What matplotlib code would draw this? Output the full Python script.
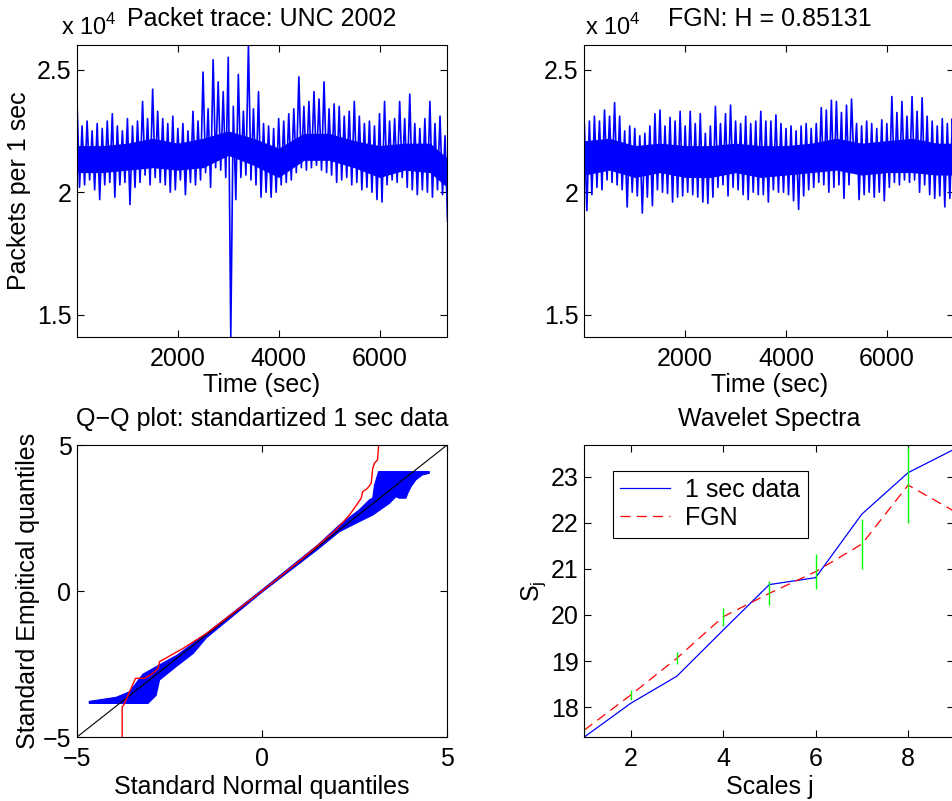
import numpy as np
import matplotlib
matplotlib.use('Agg')
import matplotlib.pyplot as plt

plt.rcParams['font.family'] = ['Liberation Sans', 'DejaVu Sans']
plt.rcParams['font.size'] = 18
plt.rcParams['axes.titlesize'] = 18
plt.rcParams['axes.linewidth'] = 0.8

# --- 1 sec packet counts (local peaks at t, local troughs at t + 50)
trace_peaks = [23700, 22700, 22900, 22500, 22800, 22600, 22900, 23200, 22700, 22500,
               23000, 22700, 22900, 23700, 23000, 24200, 23300, 23000, 22800, 23100,
               22600, 22800, 22500, 23300, 22900, 24900, 23400, 25400, 24500, 24100,
               25500, 23500, 24800, 23300, 26000, 23400, 24100, 22800, 22700, 22600,
               23000, 22900, 23200, 23400, 24700, 23500, 23700, 24100, 23800, 24500,
               23400, 23600, 23500, 23100, 23300, 23700, 23100, 22800, 22900, 22700,
               23200, 23700, 22900, 23000, 23700, 23000, 24000, 22800, 22600, 23000,
               23700, 22800, 23100, 22300]
trace_troughs = [20200, 20300, 20500, 20100, 19700, 20300, 20400, 19800, 20300, 20400,
                 19500, 20200, 20400, 20700, 20300, 20600, 20400, 20300, 20000, 20100,
                 20500, 19900, 20400, 20300, 20500, 20800, 20200, 21000, 20900, 20600,
                 14100, 19700, 20600, 20700, 20500, 20300, 19800, 20000, 19800, 20000,
                 20300, 20400, 20500, 20800, 21000, 20900, 21000, 21100, 20900, 20800,
                 20700, 20400, 20500, 20600, 20300, 20400, 20100, 20200, 20000, 19700,
                 19600, 20300, 20500, 20400, 20600, 20200, 20100, 19900, 20100, 20000,
                 19800, 20100, 19900, 18800]
# dense core of the trace, read every 500 sec
core_times = [0, 500, 1000, 1500, 2000, 2500, 3000, 3500, 4000, 4500, 5000, 5500,
              6000, 6500, 7000, 7340]
trace_core_hi = [21900, 21900, 22000, 22200, 22000, 22200, 22500, 22200, 21800, 22400,
                 22400, 22100, 21900, 22000, 22000, 21400]
trace_core_lo = [20800, 20800, 20900, 21000, 20900, 21000, 21500, 21100, 20600, 21300,
                 21300, 21000, 20600, 20900, 20800, 20200]

# --- synthetic FGN trace (H = 0.85131)
fgn_peaks = [22800, 22900, 23100, 22900, 23350, 23100, 23650, 23100, 22500, 22700,
             22600, 22300, 22400, 22700, 23200, 23350, 22700, 23050, 22900, 23300,
             22700, 23300, 22800, 23200, 22400, 22700, 23500, 22800, 23200, 23550,
             22900, 22800, 23100, 22800, 22900, 23300, 22900, 22900, 23150, 22800,
             22600, 22700, 22500, 22700, 22800, 22600, 22800, 23450, 23350, 23750,
             23700, 23250, 23550, 23800, 22800, 22700, 22900, 22800, 22600, 22950,
             22800, 23900, 23250, 23700, 23100, 23900, 23300, 23850, 23100, 22900,
             22700, 23000, 22800, 23000]
fgn_troughs = [19250, 19900, 20200, 20100, 20500, 20400, 20300, 20100, 19400, 20000,
               19850, 19150, 19800, 19450, 20100, 20000, 19950, 19600, 19800, 19850,
               20000, 19900, 19800, 19600, 19550, 19800, 20200, 20300, 19850, 20200,
               20100, 19900, 19700, 20000, 19900, 19900, 19600, 20100, 20000, 20000,
               19900, 19650, 19300, 19850, 20100, 20200, 20400, 20300, 20000, 20200,
               20300, 19750, 20300, 21000, 19700, 19900, 20000, 19800, 20000, 19650,
               20200, 20400, 20300, 20500, 20400, 20500, 20000, 20300, 19900, 19750,
               19850, 19400, 19750, 20000]
fgn_core_hi = [22100, 22200, 21900, 22000, 21900, 21900, 22000, 21900, 21900, 22000,
               22200, 22000, 22100, 22200, 22000, 22000]
fgn_core_lo = [20700, 20900, 20600, 20800, 20600, 20600, 20800, 20600, 20700, 20800,
               20900, 20700, 20800, 20800, 20700, 20700]

# --- Q-Q plot
ref_line = [-5, 5]
qq_data_x = [-3.78, -3.78, -3.74, -3.42, -3.17, -2.95, -2.81, -2.77, -2.45, -2.14, -1.5,
             0.0, 1.0, 1.5, 2.0, 2.36, 2.49, 2.68, 2.72, 2.85, 2.95, 2.99, 3.04, 3.12,
             3.15, 3.15]
qq_data_y = [-5.5, -3.97, -3.91, -2.99, -2.99, -2.82, -2.65, -2.42, -2.19, -1.97, -1.45,
             0.0, 1.02, 1.55, 2.1, 2.6, 2.83, 3.18, 3.4, 3.52, 3.69, 4.2, 4.38, 4.49,
             4.95, 5.5]
# outline of the bundle of simulated FGN Q-Q curves
bundle_x = [-4.67, -3.94, -3.58, -3.22, -2.8, -2.3, -1.5, 0.0, 1.5, 2.09, 2.63, 2.9,
            2.99, 3.04, 3.15, 4.52, 4.52, 4.34, 4.16, 4.03, 3.94, 3.89, 3.71, 3.62,
            3.44, 2.99, 2.54, 2.09, 1.5, 0.0, -1.5, -1.86, -2.32, -2.77, -2.86, -3.08,
            -4.67]
bundle_y = [-3.78, -3.64, -3.45, -2.85, -2.55, -2.2, -1.45, 0.04, 1.57, 2.26, 2.78, 3.12,
            3.18, 3.63, 4.09, 4.09, 4.03, 3.98, 3.81, 3.58, 3.35, 3.18, 3.18, 3.23,
            3.0, 2.6, 2.32, 2.03, 1.42, -0.04, -1.6, -2.14, -2.59, -3.05, -3.57, -3.85,
            -3.85]

# --- wavelet spectra
scales = [1, 2, 3, 4, 5, 6, 7, 8, 9]
spec_data = [17.35, 18.08, 18.67, 19.67, 20.66, 20.81, 22.19, 23.09, 23.6]
spec_fgn = [17.5, 18.26, 19.06, 19.96, 20.47, 20.94, 21.54, 22.82, 22.25]
spec_err = [0.08, 0.1, 0.13, 0.19, 0.26, 0.38, 0.55, 0.83]

fig = plt.figure(figsize=(9.52, 8.01), dpi=100)
ax_l, ax_r = 0.0809, 0.6138
ax_w, ax_h = 0.3887, 0.3645
ax1 = fig.add_axes([ax_l, 0.5793, ax_w, ax_h])
ax2 = fig.add_axes([ax_r, 0.5793, ax_w, ax_h])
ax3 = fig.add_axes([ax_l, 0.0799, ax_w, ax_h])
ax4 = fig.add_axes([ax_r, 0.0799, ax_w, ax_h])

for ax in (ax1, ax2, ax3, ax4):
    ax.tick_params(direction='in', top=True, right=True, length=5, width=0.8)
    ax.tick_params(axis='x', pad=7)
    ax.tick_params(axis='y', pad=4)


def zigzag(peaks, troughs, step=100):
    t = np.arange(len(peaks)) * step
    x = np.empty(2 * len(peaks))
    y = np.empty(2 * len(peaks))
    x[0::2], x[1::2] = t, t + step / 2
    y[0::2], y[1::2] = peaks, troughs
    return x, y


panels = ((ax1, trace_peaks, trace_troughs, trace_core_lo, trace_core_hi,
           'Packet trace: UNC 2002', -0.042),
          (ax2, fgn_peaks, fgn_troughs, fgn_core_lo, fgn_core_hi,
           'FGN: H = 0.85131', 0.003))
for ax, peaks, troughs, core_lo, core_hi, title, xoff in panels:
    ax.fill_between(core_times, core_lo, core_hi, color='blue', lw=0)
    tx, ty = zigzag(peaks, troughs)
    ax.plot(tx, ty, color='blue', lw=1.2)
    ax.set_xlim(0, 7340)
    ax.set_ylim(14100, 26000)
    ax.set_xticks([2000, 4000, 6000])
    ax.set_yticks([15000, 20000, 25000])
    ax.set_yticklabels(['1.5', '2', '2.5'])
    ax.set_xlabel('Time (sec)', labelpad=2)
    ax.set_title(title, pad=14)
    ax.text(xoff, 1.016, r'x 10$^\mathregular{4}$', transform=ax.transAxes,
            ha='left', va='bottom', fontsize=17)
ax1.set_ylabel('Packets per 1 sec', labelpad=4)

# Q-Q
ax3.fill(bundle_x, bundle_y, color='blue', lw=0.8)
ax3.plot(ref_line, ref_line, color='black', lw=0.8)
ax3.plot(qq_data_x, qq_data_y, color='red', lw=1.0)
ax3.set_xlim(-5, 5)
ax3.set_ylim(-5, 5)
ax3.set_xticks([-5, 0, 5])
ax3.set_yticks([-5, 0, 5])
ax3.set_xlabel('Standard Normal quantiles', labelpad=3)
ax3.set_ylabel('Standard Empitical quantiles', labelpad=2)
ax3.set_title('Q\u2212Q plot: standartized 1 sec data', pad=14)

# wavelet spectra
ax4.plot(scales, spec_data, color='blue', lw=0.9, label='1 sec data')
ax4.plot(scales, spec_fgn, color='red', lw=0.9, linestyle=(0, (8, 5)), label='FGN')
nerr = len(spec_err)
ax4.vlines(scales[:nerr], np.array(spec_fgn[:nerr]) - spec_err,
           np.array(spec_fgn[:nerr]) + spec_err, color=(0, 1, 0), lw=1.0)
ax4.set_xlim(1, 9)
ax4.set_ylim(17.35, 23.69)
ax4.set_xticks([2, 4, 6, 8])
ax4.set_yticks([18, 19, 20, 21, 22, 23])
ax4.set_xlabel('Scales j', labelpad=3)
ax4.set_ylabel(r'$\mathregular{S_j}$', labelpad=2)
ax4.set_title('Wavelet Spectra', pad=14)
leg = ax4.legend(loc='upper left', bbox_to_anchor=(0.077, 0.912), borderaxespad=0,
                 fancybox=False, edgecolor='black', framealpha=1, handlelength=2.0,
                 handletextpad=0.6, labelspacing=0.16, borderpad=0.3)
leg.get_frame().set_linewidth(0.8)

fig.savefig('out.png', dpi=100)
